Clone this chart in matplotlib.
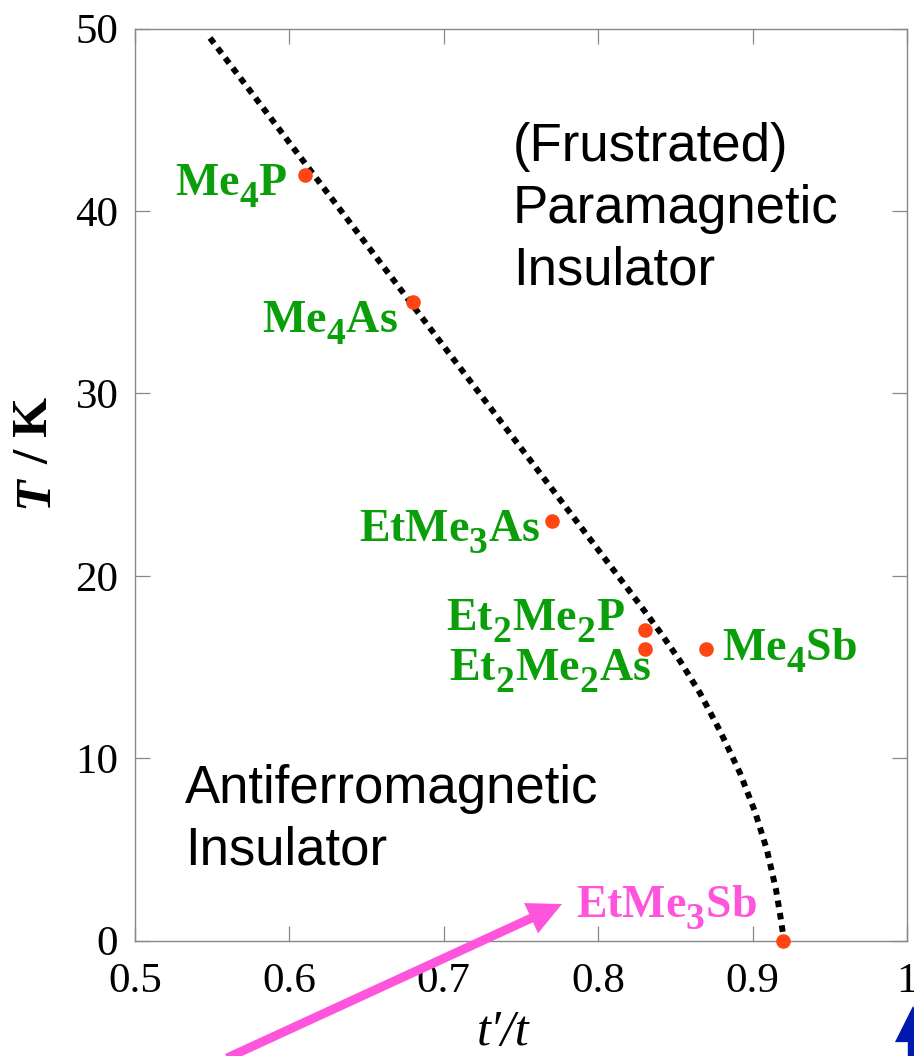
import matplotlib
matplotlib.use("Agg")
import matplotlib.pyplot as plt
from matplotlib.patches import FancyArrowPatch

plt.rcParams['mathtext.fontset'] = 'custom'
plt.rcParams['mathtext.rm'] = 'Liberation Serif'
plt.rcParams['mathtext.bf'] = 'Liberation Serif:bold'
plt.rcParams['mathtext.it'] = 'Liberation Serif:italic'
# larger, lower subscripts like the reference
try:
    import matplotlib._mathtext as _mt
    _mt.SHRINK_FACTOR = 0.82
    _mt.FontConstantsBase.sub1 = 0.6
except Exception:
    pass

# ---- data ----
compounds = ['Me$_\\mathbf{4}$P', 'Me$_\\mathbf{4}$As', 'EtMe$_\\mathbf{3}$As',
             'Et$_\\mathbf{2}$Me$_\\mathbf{2}$P', 'Et$_\\mathbf{2}$Me$_\\mathbf{2}$As',
             'Me$_\\mathbf{4}$Sb', 'EtMe$_\\mathbf{3}$Sb']
tprime_t = [0.61, 0.68, 0.77, 0.83, 0.83, 0.87, 0.92]
T_K = [42, 35, 23, 17, 16, 16, 0]

# phase boundary (dotted)
bound_x = [0.5486, 0.6846, 0.8271, 0.8400, 0.8530, 0.8659, 0.8789, 0.8918,
           0.9016, 0.9093, 0.9152, 0.9184, 0.9203]
bound_y = [49.49, 34.30, 18.40, 16.92, 15.33, 13.57, 11.49, 9.19,
           7.05, 4.96, 2.77, 1.12, 0.0]

xticks = [0.5, 0.6, 0.7, 0.8, 0.9, 1.0]
xticklabels = ['0.5', '0.6', '0.7', '0.8', '0.9', '1']
yticks = [0, 10, 20, 30, 40, 50]
yticklabels = ['0', '10', '20', '30', '40', '50']

# label offsets (pixels) and alignment
label_off = [(-17, -21), (-15, -30), (-11, -20), (-20, 0), (6, -32), (16, -12), (-207, 23)]
label_ha = ['right', 'right', 'right', 'right', 'right', 'left', 'left']

green = '#0A9F0A'
pink = '#FF55DD'
red = '#FF4511'

W, H = 914, 1056
fig = plt.figure(figsize=(W / 100, H / 100), dpi=100)
ax = fig.add_axes([135 / W, 1 - 940.5 / H, (907 - 135) / W, (940.5 - 28.7) / H])

ax.plot(bound_x, bound_y, color='black', lw=4.3, linestyle=(0, (1.1, 1.0)),
        dash_capstyle='butt', solid_joinstyle='round', clip_on=False, zorder=2)
ax.plot(tprime_t, T_K, 'o', color=red, ms=10.5, mec='none', clip_on=False, zorder=3)

for i, (lab, x, y) in enumerate(zip(compounds, tprime_t, T_K)):
    col = pink if i == len(compounds) - 1 else green
    ax.annotate(lab, xy=(x, y), xytext=label_off[i], textcoords='offset pixels',
                ha=label_ha[i], va='baseline', color=col, fontsize=33,
                fontweight='bold', family='Liberation Serif', annotation_clip=False)

ax.set_xlim(0.5, 1.0)
ax.set_ylim(0, 50)
ax.set_xticks(xticks)
ax.set_xticklabels(xticklabels)
ax.set_yticks(yticks)
ax.set_yticklabels(yticklabels)
for s in ax.spines.values():
    s.set_color('#888888')
    s.set_linewidth(1.0)
ax.tick_params(direction='in', length=11, width=0.9, color='#888888',
               top=True, right=True, labelsize=31, pad=12)
for t in ax.get_xticklabels() + ax.get_yticklabels():
    t.set_family('Liberation Serif')
ax.tick_params(axis='x', pad=16)

# region labels (baseline of the last line given)
ax.text(0.7448, 35.95, '(Frustrated)\nParamagnetic\nInsulator', fontsize=38,
        family='Liberation Sans', ha='left', va='baseline', linespacing=1.31)
ax.text(0.5324, 4.15, 'Antiferromagnetic\nInsulator', fontsize=38,
        family='Liberation Sans', ha='left', va='baseline', linespacing=1.31)

# axis labels
fig.text(503 / W, 1 - 1033 / H, "t\u2032/t", fontsize=36, style='italic',
         family='Liberation Serif', ha='center', va='center')
fig.text(35 / W, 1 - 508 / H, 'T', fontsize=37, style='italic', weight='bold',
         family='Liberation Serif', rotation=90, ha='center', va='bottom')
fig.text(35 / W, 1 - 397 / H, '/ K', fontsize=37, weight='bold',
         family='Liberation Serif', rotation=90, ha='center', va='top')

# arrows outside the axes (figure pixels)
pa = FancyArrowPatch((227, H - 1058), (562, H - 904), transform=None,
                     arrowstyle='simple,head_length=2.45,head_width=2.4,tail_width=0.65',
                     mutation_scale=10, color=pink, lw=0, shrinkA=0, shrinkB=0)
fig.add_artist(pa)
ba = FancyArrowPatch((913, -40), (913, H - 1006), transform=None,
                     arrowstyle='simple,head_length=2.6,head_width=2.6,tail_width=0.75',
                     mutation_scale=10, color='#0018B0', lw=0, shrinkA=0, shrinkB=0)
fig.add_artist(ba)

fig.savefig('out.png', dpi=100)
